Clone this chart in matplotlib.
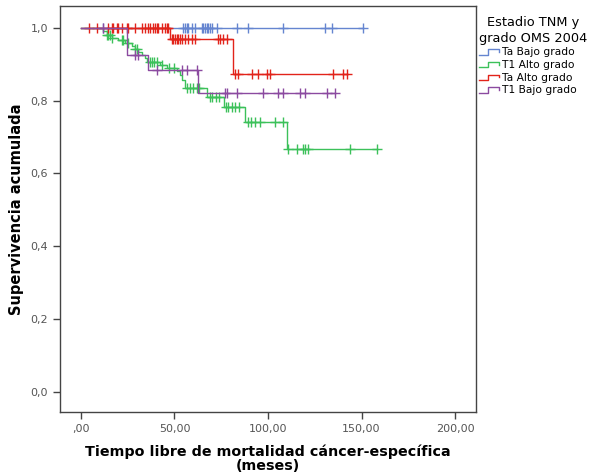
import matplotlib
matplotlib.use("Agg")
import matplotlib.pyplot as plt
from matplotlib.legend_handler import HandlerBase
from matplotlib.lines import Line2D
import numpy as np

# --- data ---
group_names = ["Ta Bajo grado", "T1 Alto grado", "Ta Alto grado", "T1 Bajo grado"]
group_colors = ["#6585d0", "#3cc15a", "#e2231a", "#8b4aa0"]

# Ta Bajo grado: no events
blue_times = []
blue_surv = []
blue_end = 151
blue_censor = [12, 54.7, 55.6, 56.5, 57.4, 59.2, 61, 64.5, 65.4, 66.3, 67.2, 68.1, 69,
               69.9, 72.6, 83.3, 89.5, 108.2, 130.5, 134.1, 151]

# T1 Alto grado
green_times = [12.0, 13.7, 16.4, 20.0, 23.5, 27.1, 28.9, 30.7, 32.4, 34.2, 35.1, 42.2,
               45.8, 51.2, 53.0, 54.2, 55.6, 67.2, 76.3, 87.7, 110.0]
green_surv = [0.990, 0.981, 0.973, 0.966, 0.959, 0.951, 0.943, 0.933, 0.925, 0.916, 0.906,
              0.898, 0.891, 0.882, 0.870, 0.856, 0.834, 0.811, 0.782, 0.742, 0.667]
green_end = 158.1
green_censor = [13.7, 14.6, 15.5, 16.4, 21.8, 22.6, 25.3, 28.9, 29.8, 36.9, 37.8, 39.2, 40.5,
                43.2, 47.1, 49.7, 56.5, 58.3, 60.1, 61.9, 63.1, 69, 70.2, 72, 73.8, 77.4,
                78.8, 80.6, 82.4, 84.5, 89.5, 90.9, 93, 95.7, 103.7, 108.2, 110.9, 115.3,
                118.9, 119.8, 121.6, 143.9, 158.1]

# Ta Alto grado
red_times = [47.6, 81.5]
red_surv = [0.969, 0.874]
red_end = 142
red_censor = [4.5, 8.4, 14.6, 16.4, 17.3, 19.1, 20, 21.8, 24.4, 25.3, 28.9, 32.5, 34.2, 36,
              36.9, 38.7, 39.6, 40.5, 41.4, 43.2, 44.9, 45.8, 46.7, 48.5, 49.4, 50.3, 51.2,
              52.1, 52.9, 53.8, 55.6, 57.4, 59.2, 61, 73.4, 74.3, 76.1, 77.9, 82.4, 84.1,
              91.3, 94.8, 99.3, 101.1, 134.9, 140.3, 142]

# T1 Bajo grado
purple_times = [24.4, 35.6, 62.7]
purple_surv = [0.925, 0.884, 0.821]
purple_end = 135.8
purple_censor = [12, 28.9, 30.6, 40.5, 53.8, 56.5, 61.9, 77, 77.9, 83.3, 97.5, 105.5, 108.2,
                 117.1, 119.8, 131.4, 135.8]

x_ticks = [0, 50, 100, 150, 200]
y_ticks = [0.0, 0.2, 0.4, 0.6, 0.8, 1.0]


def surv_at(t, times, surv):
    # survival just after time t (step function, right-continuous)
    i = np.searchsorted(times, t, side="right")
    return 1.0 if i == 0 else surv[i - 1]


class StepHandler(HandlerBase):
    def create_artists(self, legend, orig_handle, xdescent, ydescent, width, height,
                       fontsize, trans):
        x0, y0 = -xdescent, -ydescent
        xs = [x0, x0 + 0.45 * width, x0 + 0.45 * width, x0 + width, x0 + width]
        ys = [y0 + 0.1 * height, y0 + 0.1 * height, y0 + 0.8 * height,
              y0 + 0.8 * height, y0 + 0.45 * height]
        ln = Line2D(xs, ys, color=orig_handle.get_color(), lw=1.0, transform=trans)
        return [ln]


fig = plt.figure(figsize=(5.91, 4.75), dpi=100)
ax = fig.add_axes([0.1015, 0.1326, 0.7039, 0.8548])

groups = [
    (blue_times, blue_surv, blue_end, blue_censor),
    (green_times, green_surv, green_end, green_censor),
    (red_times, red_surv, red_end, red_censor),
    (purple_times, purple_surv, purple_end, purple_censor),
]

handles = []
for (times, surv, end, cens), name, col in zip(groups, group_names, group_colors):
    xs = [0] + list(times) + [end]
    ys = [1.0] + list(surv) + [surv[-1] if surv else 1.0]
    ax.step(xs, ys, where="post", color=col, lw=1.0)
    cy = [surv_at(t, times, surv) for t in cens]
    ax.plot(cens, cy, linestyle="none", marker="+", markersize=6.5, mew=1.0, color=col)
    handles.append(Line2D([], [], color=col, label=name))

ax.set_xlim(-11.2, 211.2)
ax.set_ylim(-0.055, 1.06)
ax.set_xticks(x_ticks)
ax.set_xticklabels([(",00" if v == 0 else f"{v:.2f}".replace(".", ",")) for v in x_ticks])
ax.set_yticks(y_ticks)
ax.set_yticklabels([f"{v:.1f}".replace(".", ",") for v in y_ticks])
ax.tick_params(direction="out", length=5, width=1, colors="#444444",
               labelsize=8, labelcolor="#555555")
for s in ax.spines.values():
    s.set_color("#444444")
    s.set_linewidth(1.0)

ax.set_ylabel("Supervivencia acumulada", fontsize=10.5, fontweight="bold", labelpad=5)
ax.set_xlabel("Tiempo libre de mortalidad cáncer-específica\n(meses)", fontsize=10.3,
              fontweight="bold", labelpad=8, linespacing=1.0)

leg = fig.legend(handles=handles, loc="upper left", bbox_to_anchor=(0.808, 0.969),
                 frameon=False, title="Estadio TNM y\ngrado OMS 2004",
                 fontsize=7.7, title_fontsize=9.3, labelspacing=0.25, handlelength=1.9,
                 handletextpad=0.3, borderaxespad=0, borderpad=0.1, alignment="left",
                 handler_map={Line2D: StepHandler()})
leg.get_title().set_multialignment("center")
leg.get_title().set_linespacing(1.3)

fig.savefig("out.png", dpi=100)
